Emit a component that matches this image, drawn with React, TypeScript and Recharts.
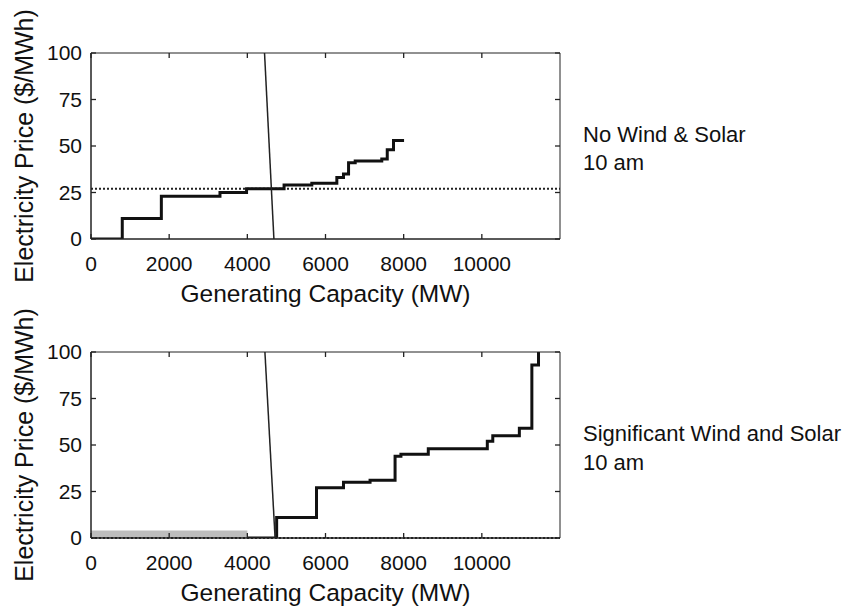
import React from 'react';
import { LineChart, Line, XAxis, YAxis, ReferenceLine, ReferenceArea } from 'recharts';

const FONT = '"Liberation Sans", Arial, Helvetica, sans-serif';

// axis ticks
const X_TICKS = [0, 2000, 4000, 6000, 8000, 10000];
const Y_TICKS = [0, 25, 50, 75, 100];

// supply curve without wind & solar (MW, $/MWh)
const noWindCapacity = [0, 800, 1800, 3300, 3980, 4940, 5650, 6290, 6460, 6590, 6760, 7440, 7580, 7740, 8010];
const noWindPrice = [0, 11, 23, 25, 27, 29, 30, 33, 35, 41, 42, 43, 48, 53, 53];

// supply curve with significant wind & solar
const windCapacity = [4000, 4750, 5770, 6460, 7140, 7780, 7930, 8630, 10140, 10280, 10960, 11280, 11450];
const windPrice = [0, 11, 27, 30, 31, 44, 45, 48, 52, 55, 59, 93, 100];

// demand lines
const demandTopCapacity = [4440, 4680];
const demandBottomCapacity = [4450, 4710];
const demandPrice = [100, 0];

// clearing prices and wind/solar block
const clearingTop = 27;
const clearingBottom = 0;
const renewableBlock = { from: 0, to: 4000, height: 4 };

const zip = (xs: number[], ys: number[]) => xs.map((x, i) => ({ x, y: ys[i] }));

const NoLabel = () => <g />;

const XLabel = (props: any) => {
  const vb = props.viewBox || {};
  return (
    <text x={vb.x + vb.width / 2} y={vb.y + 63} textAnchor="middle" fontSize={24.5} fontFamily={FONT} fill="#111">
      Generating Capacity (MW)
    </text>
  );
};

const YLabel = (props: any) => {
  const vb = props.viewBox || {};
  const cy = vb.y + vb.height / 2;
  return (
    <text
      x={33}
      y={cy}
      transform={`rotate(-90, 33, ${cy})`}
      textAnchor="middle"
      fontSize={25}
      fontFamily={FONT}
      fill="#111"
    >
      Electricity Price ($/MWh)
    </text>
  );
};

interface PanelProps {
  top: number;
  supply: { x: number; y: number }[];
  demand: { x: number; y: number }[];
  clearing: number;
  showBlock?: boolean;
}

function Panel({ top, supply, demand, clearing, showBlock }: PanelProps) {
  const tickStyle = { fill: '#111', fontSize: 21, fontFamily: FONT };
  const tickLine = { stroke: '#222', strokeWidth: 1.3 };
  // mirrored, label-less axes give the inward tick marks on all four sides
  const xMarks = (id: string, orientation: 'top' | 'bottom') => (
    <XAxis
      xAxisId={id}
      orientation={orientation}
      mirror
      type="number"
      dataKey="x"
      domain={[0, 12000]}
      ticks={X_TICKS}
      allowDataOverflow
      height={10}
      tickSize={5}
      tickLine={tickLine}
      tick={NoLabel}
      stroke="#222"
    />
  );
  const yMarks = (id: string, orientation: 'left' | 'right') => (
    <YAxis
      yAxisId={id}
      orientation={orientation}
      mirror
      type="number"
      domain={[0, 100]}
      ticks={Y_TICKS}
      allowDataOverflow
      width={10}
      tickSize={5}
      tickLine={tickLine}
      tick={NoLabel}
      stroke="#222"
    />
  );
  return (
    <div style={{ position: 'absolute', left: 0, top }}>
      <LineChart width={848} height={315} margin={{ top: 53, right: 288, bottom: 16, left: 0 }}>
        <XAxis
          xAxisId={0}
          type="number"
          dataKey="x"
          domain={[0, 12000]}
          ticks={X_TICKS}
          allowDataOverflow
          height={60}
          tickSize={0}
          tickMargin={17}
          stroke="#222"
          tickLine={false}
          tick={tickStyle}
          label={{ content: XLabel }}
        />
        {xMarks('bmarks', 'bottom')}
        {xMarks('tmarks', 'top')}
        <YAxis
          yAxisId={0}
          type="number"
          domain={[0, 100]}
          ticks={Y_TICKS}
          allowDataOverflow
          width={91}
          tickSize={0}
          tickMargin={9}
          stroke="#222"
          tickLine={false}
          tick={tickStyle}
          label={{ content: YLabel }}
        />
        {yMarks('lmarks', 'left')}
        {yMarks('rmarks', 'right')}
        {showBlock && (
          <ReferenceArea
            x1={renewableBlock.from}
            x2={renewableBlock.to}
            y1={0}
            y2={renewableBlock.height}
            fill="#bdbdbd"
            fillOpacity={1}
            stroke="none"
          />
        )}
        <ReferenceLine y={clearing} stroke="#222" strokeWidth={2} strokeDasharray="2 2" />
        <Line
          data={supply}
          dataKey="y"
          type="stepAfter"
          stroke="#111"
          strokeWidth={3}
          dot={false}
          activeDot={false}
          isAnimationActive={false}
        />
        <Line
          data={demand}
          dataKey="y"
          type="linear"
          stroke="#222"
          strokeWidth={1.5}
          dot={false}
          activeDot={false}
          isAnimationActive={false}
        />
      </LineChart>
    </div>
  );
}

export default function App() {
  const textStyle = { fontSize: 22, fontFamily: FONT, fill: '#111' };
  return (
    <div
      style={{ position: 'absolute', left: 0, top: 0, width: 848, height: 609, background: '#fff', overflow: 'hidden' }}
    >
      <Panel top={0} supply={zip(noWindCapacity, noWindPrice)} demand={zip(demandTopCapacity, demandPrice)} clearing={clearingTop} />
      <Panel
        top={299}
        supply={zip(windCapacity, windPrice)}
        demand={zip(demandBottomCapacity, demandPrice)}
        clearing={clearingBottom}
        showBlock
      />
      <svg width={848} height={609} style={{ position: 'absolute', left: 0, top: 0, pointerEvents: 'none' }}>
        <text x={583} y={142} {...textStyle}>No Wind &amp; Solar</text>
        <text x={583} y={170} {...textStyle}>10 am</text>
        <text x={583} y={441} {...textStyle}>Significant Wind and Solar</text>
        <text x={583} y={470} {...textStyle}>10 am</text>
      </svg>
    </div>
  );
}
